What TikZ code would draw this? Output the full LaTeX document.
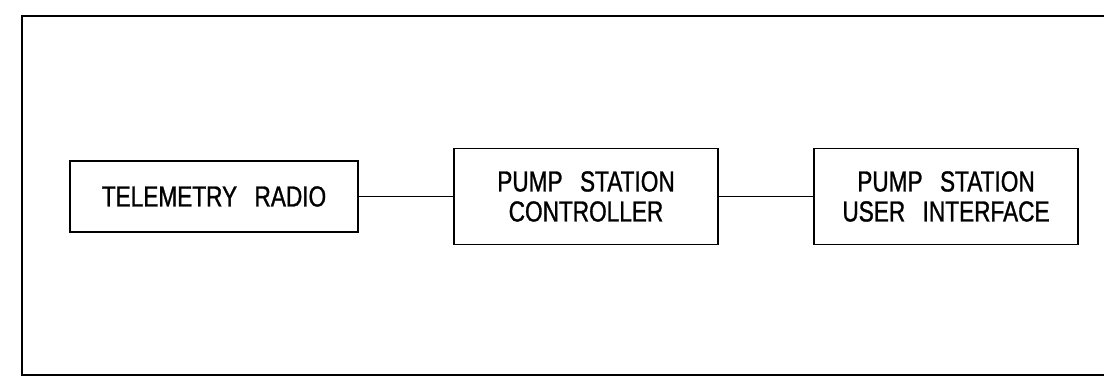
\documentclass[tikz,border=0pt]{standalone}
\usepackage{fontspec}
\setmainfont{Liberation Sans}[FakeStretch=0.78,FakeBold=1]
\begin{document}
\begin{tikzpicture}[x=1pt,y=-1pt,
  blk/.style={draw=black,line width=1.4pt,inner sep=0pt,align=center,
    font=\fontsize{29}{30}\selectfont},
  conn/.style={draw=black,line width=1.4pt}]
\useasboundingbox (0,0) rectangle (1104,382);
\draw[line width=2pt] (1106,16) -- (22,16) -- (22,375) -- (1106,375);
\node[blk,minimum width=288pt,minimum height=71pt] (radio) at (214,196.5) {TELEMETRY\hspace{0.6em}RADIO};
\node[blk,minimum width=264pt,minimum height=96pt] (ctrl) at (586,196.5) {PUMP\hspace{0.6em}STATION\\CONTROLLER};
\node[blk,minimum width=264pt,minimum height=96pt] (ui) at (946,196.5) {PUMP\hspace{0.6em}STATION\\USER\hspace{0.6em}INTERFACE};
\draw[conn] (radio.east) -- (ctrl.west);
\draw[conn] (ctrl.east) -- (ui.west);
\end{tikzpicture}
\end{document}
